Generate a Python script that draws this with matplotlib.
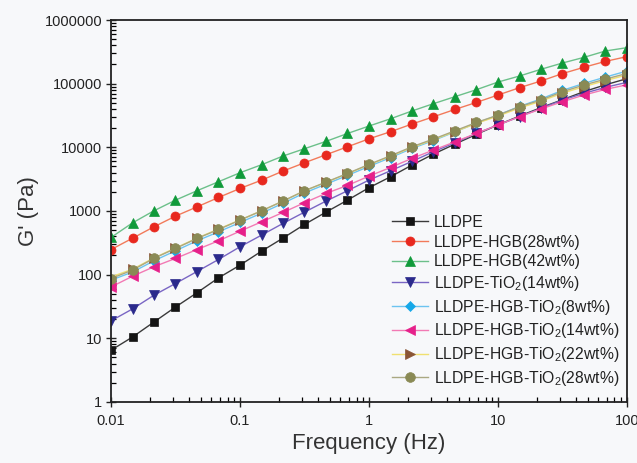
import matplotlib
matplotlib.use('Agg')
import matplotlib.pyplot as plt

plt.rcParams['font.family'] = ['Liberation Sans', 'DejaVu Sans']
plt.rcParams['mathtext.fontset'] = 'custom'
plt.rcParams['mathtext.rm'] = 'Liberation Sans'
plt.rcParams['mathtext.default'] = 'regular'

BG = '#f7f8fa'

# frequency sweep, 6 points per decade
freq = [0.01, 0.0147, 0.0215, 0.0316, 0.0464, 0.0681,
        0.1, 0.147, 0.215, 0.316, 0.464, 0.681,
        1, 1.47, 2.15, 3.16, 4.64, 6.81,
        10, 14.7, 21.5, 31.6, 46.4, 68.1, 100]

g_lldpe = [6.5, 10.5, 18, 31, 52, 89, 141, 234, 374, 614, 960, 1480, 2320,
           3450, 5260, 7830, 11250, 16000, 22500, 31000, 42000, 56000, 75000,
           96000, 120000]
g_hgb28 = [248, 374, 564, 830, 1160, 1630, 2260, 3050, 4230, 5720, 7650,
           10200, 13600, 17600, 23200, 30200, 39400, 50800, 66300, 86500,
           110000, 144000, 181000, 224000, 266000]
g_hgb42 = [384, 652, 1007, 1480, 2080, 2880, 3990, 5330, 7290, 9510, 12400,
           16500, 21600, 28100, 37200, 48500, 62500, 80500, 106000, 132000,
           168000, 211000, 259000, 326000, 368000]
g_tio2 = [18.8, 29, 47.5, 72.6, 112, 173, 274, 418, 637, 960, 1430, 2080,
          3060, 4290, 6010, 8530, 11800, 16600, 22400, 30300, 40900, 55300,
          70500, 87600, 105000]
g_ht8 = [82, 110, 165, 237, 340, 470, 660, 925, 1320, 1920, 2640, 3620, 5020,
         6900, 9600, 12800, 17500, 24000, 32000, 44000, 57500, 78500, 101000,
         127000, 158000]
g_ht14 = [64, 94.6, 133, 180, 248, 340, 482, 676, 948, 1350, 1890, 2520, 3530,
          4830, 6700, 9060, 12200, 16600, 22400, 30300, 40000, 52100, 66300,
          81400, 96000]
g_ht22 = [92, 122, 183, 262, 375, 520, 725, 1010, 1430, 2070, 2820, 3850,
          5320, 7250, 9950, 13200, 17700, 23800, 31000, 41500, 53000, 71000,
          90000, 112000, 137000]
g_ht28 = [87, 118, 180, 258, 370, 512, 718, 1007, 1430, 2080, 2840, 3890,
          5390, 7380, 10200, 13500, 18200, 24600, 32100, 43500, 55300, 74800,
          95300, 118000, 145000]

labels = ['LLDPE', 'LLDPE-HGB(28wt%)', 'LLDPE-HGB(42wt%)',
          'LLDPE-TiO$_2$(14wt%)', 'LLDPE-HGB-TiO$_2$(8wt%)',
          'LLDPE-HGB-TiO$_2$(14wt%)', 'LLDPE-HGB-TiO$_2$(22wt%)',
          'LLDPE-HGB-TiO$_2$(28wt%)']

x_ticks = [0.01, 0.1, 1, 10, 100]
x_ticklabels = ['0.01', '0.1', '1', '10', '100']
y_ticks = [1, 10, 100, 1000, 10000, 100000, 1000000]
y_ticklabels = ['1', '10', '100', '1000', '10000', '100000', '1000000']

series = [g_lldpe, g_hgb28, g_hgb42, g_tio2, g_ht8, g_ht14, g_ht22, g_ht28]
line_colors = ['#3a3a3a', '#f27a5a', '#6cc08a', '#7a66c4',
               '#6cc4f0', '#f27ab4', '#f0e070', '#aaa882']
marker_colors = ['#141414', '#e8281e', '#109a3a', '#2b2a8c',
                 '#16a8e8', '#e6208a', '#8a5535', '#8a8a55']
markers = ['s', 'o', '^', 'v', 'D', '<', '>', 'o']
msizes = [5.5, 6.5, 6.5, 6.5, 5.0, 6.5, 6.5, 7.0]

fig = plt.figure(figsize=(6.37, 4.63), dpi=100)
fig.patch.set_facecolor(BG)
ax = fig.add_axes([0.1743, 0.1318, 0.810, 0.825])
ax.set_facecolor(BG)

for ys, lc, mc, mk, ms, lab in zip(series, line_colors, marker_colors,
                                   markers, msizes, labels):
    ax.plot(freq, ys, color=lc, lw=1.0, marker=mk, ms=ms,
            markerfacecolor=mc, markeredgecolor=mc, markeredgewidth=0.5,
            label=lab)

ax.set_xscale('log')
ax.set_yscale('log')
ax.set_xlim(0.01, 100)
ax.set_ylim(1, 1000000)
ax.set_xticks(x_ticks)
ax.set_xticklabels(x_ticklabels)
ax.set_yticks(y_ticks)
ax.set_yticklabels(y_ticklabels)

ax.tick_params(which='major', direction='inout', length=7, width=1.0,
               labelsize=10.5, colors='#222222', top=False, right=False)
ax.tick_params(which='minor', direction='in', length=3.5, width=0.9,
               top=False, right=False)
ax.tick_params(axis='x', which='major', pad=5)
ax.tick_params(axis='y', which='major', pad=3)
for sp in ax.spines.values():
    sp.set_linewidth(1.3)
    sp.set_color('#222222')

ax.set_xlabel('Frequency (Hz)', fontsize=16, color='#333333', labelpad=4)
ax.set_ylabel("G' (Pa)", fontsize=16, color='#333333', labelpad=4)

leg = ax.legend(loc='upper left', bbox_to_anchor=(0.545, 0.49),
                frameon=False, fontsize=11.3, numpoints=1,
                handlelength=2.3, handletextpad=0.35, labelspacing=0.3,
                borderpad=0, borderaxespad=0)
for t in leg.get_texts():
    t.set_color('#222222')

fig.savefig('out.png', dpi=100, facecolor=BG)
